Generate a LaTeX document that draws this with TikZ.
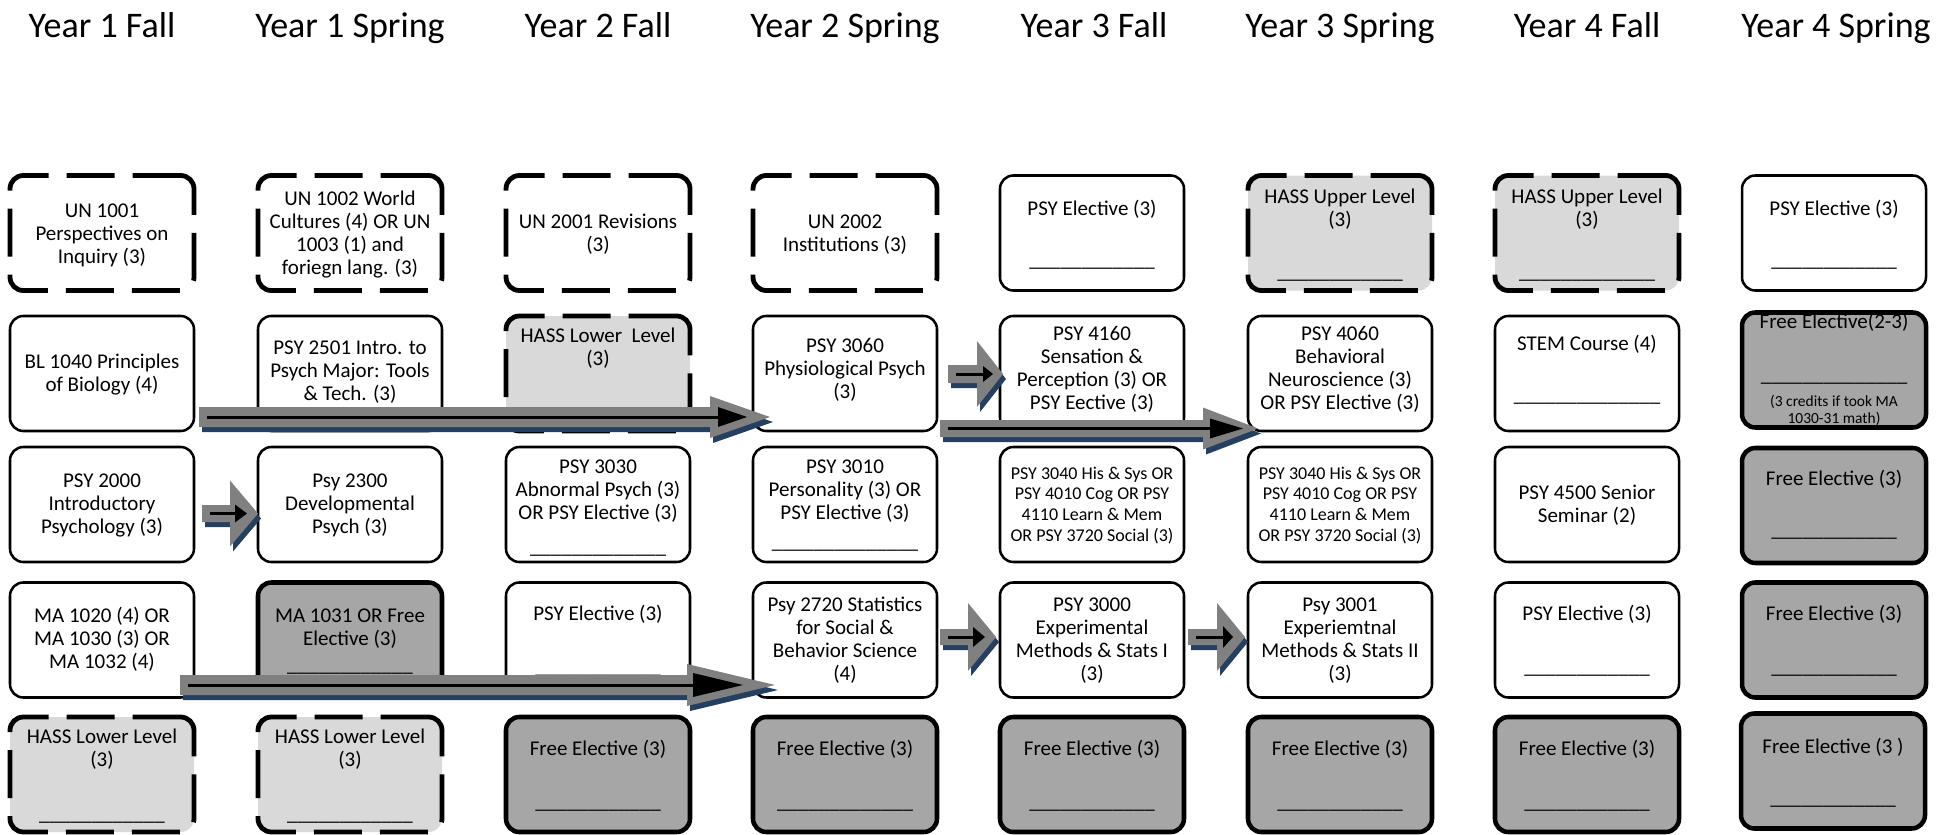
\documentclass[tikz,border=0pt]{standalone}
\usepackage{fontspec}
\setmainfont{Carlito}
\usetikzlibrary{calc}
\definecolor{lightg}{HTML}{D9D9D9}
\definecolor{freeg}{HTML}{A6A6A6}
\definecolor{arrowg}{HTML}{808080}
\definecolor{shadowb}{HTML}{243F60}
\tikzset{
 cbox/.style={rounded corners=10pt, minimum width=138pt, minimum height=86.25pt, inner sep=0pt, outer sep=0pt},
 plainbox/.style={cbox, draw=black, line width=1.9pt, fill=white},
 dashbox/.style={cbox, draw=black, line width=3.6pt, dash pattern=on 36pt off 13.5pt, fill=white},
 hassbox/.style={dashbox, fill=lightg},
 freebox/.style={cbox, draw=black, line width=3.4pt, fill=freeg},
 ctxt/.style={font=\fontsize{15.75pt}{17.5pt}\selectfont, inner sep=0pt, anchor=base},
 stxt/.style={font=\fontsize{13.5pt}{15.5pt}\selectfont, inner sep=0pt, anchor=base},
 ttxt/.style={font=\fontsize{11.6pt}{12.75pt}\selectfont, inner sep=0pt, anchor=base},
 ttl/.style={font=\fontsize{27pt}{32pt}\selectfont, inner sep=0pt, anchor=base},
}
\newcommand{\lns}[6]{\foreach \tline [count=\lnum from 0] in {#6} {\node[#1] (#2-\lnum) at (#3,{#4+\lnum*#5}) {\tline};}}
\newcommand{\garrow}[6]{\fill[#1] ($(#2)+(0,-#4)$) -- ($(#3)+(-#5,-#4)$) -- ($(#3)+(-#5,-#6)$) -- (#3) -- ($(#3)+(-#5,#6)$) -- ($(#3)+(-#5,#4)$) -- ($(#2)+(0,#4)$) -- cycle;}
\newcommand{\blockarrow}[9]{%
 \coordinate (#1s) at (#2);
 \coordinate (#1t) at (#3);
 \coordinate (#1ss) at ($(#1s)+(3,5)$);
 \coordinate (#1ts) at ($(#1t)+(3,5)$);
 \garrow{shadowb}{#1ss}{#1ts}{#4}{#5}{#6}
 \garrow{arrowg}{#1s}{#1t}{#4}{#5}{#6}
 \coordinate (#1bs) at ($(#1s)+(8,0)$);
 \coordinate (#1bt) at ($(#1t)+(-#7,0)$);
 \draw[line width=2.25pt] (#1bs) -- ($(#1bt)+(-#8/2,0)$);
 \fill[black] ($(#1bt)+(-#8,-#9)$) -- (#1bt) -- ($(#1bt)+(-#8,#9)$) -- cycle;
}
\newcommand{\blkA}{\_\_\_\_\_\_\_\_\_\_\_\_}
\newcommand{\blkB}{\_\_\_\_\_\_\_\_\_\_\_\_\_}
\newcommand{\blkC}{\_\_\_\_\_\_\_\_\_\_\_\_\_\_}
\begin{document}
\begin{tikzpicture}[x=0.75pt,y=-0.75pt]
\useasboundingbox (0,0) rectangle (1950,835);
% titles
\node[ttl] (h1) at (102,37) {Year 1 Fall};
\node[ttl] (h2) at (350,37) {Year 1 Spring};
\node[ttl] (h3) at (598,37) {Year 2 Fall};
\node[ttl] (h4) at (845,37) {Year 2 Spring};
\node[ttl] (h5) at (1094,37) {Year 3 Fall};
\node[ttl] (h6) at (1340,37) {Year 3 Spring};
\node[ttl] (h7) at (1587,37) {Year 4 Fall};
\node[ttl] (h8) at (1836,37) {Year 4 Spring};
% row 1
\node[dashbox] (c1r1) at (102,233) {};
\lns{ctxt}{t11}{102}{217}{23.3}{UN 1001,Perspectives on,Inquiry (3)}
\node[dashbox] (c2r1) at (350,233) {};
\lns{ctxt}{t21}{350}{205}{23.3}{UN 1002 World,Cultures (4) OR UN,1003 (1) and,foriegn lang. (3)}
\node[dashbox] (c3r1) at (598,233) {};
\lns{ctxt}{t31}{598}{228}{23.3}{UN 2001 Revisions,{(3)}}
\node[dashbox] (c4r1) at (845,233) {};
\lns{ctxt}{t41}{845}{228}{23.3}{UN 2002,Institutions (3)}
\node[plainbox] (c5r1) at (1092,233) {};
\lns{ctxt}{t51}{1092}{215}{23.3}{PSY Elective (3)}
\node[ctxt] (b51) at (1092,266) {\blkA};
\node[hassbox] (c6r1) at (1340,233) {};
\lns{ctxt}{t61}{1340}{203}{23.3}{HASS Upper Level,{(3)}}
\node[ctxt] (b61) at (1340,278) {\blkA};
\node[hassbox] (c7r1) at (1587,233) {};
\lns{ctxt}{t71}{1587}{203}{23.3}{HASS Upper Level,{(3)}}
\node[ctxt] (b71) at (1587,278) {\blkB};
\node[plainbox] (c8r1) at (1834,233) {};
\lns{ctxt}{t81}{1834}{215}{23.3}{PSY Elective (3)}
\node[ctxt] (b81) at (1834,266) {\blkA};
% row 2
\node[plainbox] (c1r2) at (102,373.5) {};
\lns{ctxt}{t12}{102}{368}{23.3}{BL 1040 Principles,of Biology (4)}
\node[plainbox] (c2r2) at (350,373.5) {};
\lns{ctxt}{t22}{350}{354}{23.3}{PSY 2501 Intro. to,Psych Major: Tools,\& Tech. (3)}
\node[hassbox] (c3r2) at (598,373.5) {};
\lns{ctxt}{t32}{598}{342}{23.3}{HASS Lower\ \ Level,{(3)}}
\node[plainbox] (c4r2) at (845,373.5) {};
\lns{ctxt}{t42}{845}{352}{23.3}{PSY 3060,Physiological Psych,{(3)}}
\node[plainbox] (c5r2) at (1092,373.5) {};
\lns{ctxt}{t52}{1092}{340}{23.3}{PSY 4160,Sensation \&,Perception (3) OR,PSY Eective (3)}
\node[plainbox] (c6r2) at (1340,373.5) {};
\lns{ctxt}{t62}{1340}{340}{23.3}{PSY 4060,Behavioral,Neuroscience (3),OR PSY Elective (3)}
\node[plainbox] (c7r2) at (1587,373.5) {};
\lns{ctxt}{t72}{1587}{350}{23.3}{STEM Course (4)}
\node[ctxt] (b72) at (1587,401) {\blkC};
\node[freebox] (c8r2) at (1834,370) {};
\lns{ctxt}{t82}{1834}{328}{23.3}{Free Elective(2-3)}
\node[ctxt] (b82) at (1834,381) {\blkC};
\lns{ttxt}{s82}{1834}{406}{17}{{(3 credits if took MA},{1030-31 math)}}
% row 3
\node[plainbox] (c1r3) at (102,504.5) {};
\lns{ctxt}{t13}{102}{487}{23.3}{PSY 2000,Introductory,Psychology (3)}
\node[plainbox] (c2r3) at (350,504.5) {};
\lns{ctxt}{t23}{350}{487}{23.3}{Psy 2300,Developmental,Psych (3)}
\node[plainbox] (c3r3) at (598,504.5) {};
\lns{ctxt}{t33}{598}{473}{23.3}{PSY 3030,Abnormal Psych (3),OR PSY Elective (3)}
\node[ctxt] (b33) at (598,553) {\blkB};
\node[plainbox] (c4r3) at (845,504.5) {};
\lns{ctxt}{t43}{845}{473}{23.3}{PSY 3010,Personality (3) OR,PSY Elective (3)}
\node[ctxt] (b43) at (845,548) {\blkC};
\node[plainbox] (c5r3) at (1092,504.5) {};
\lns{stxt}{t53}{1092}{479}{20.7}{PSY 3040 His \& Sys OR,PSY 4010 Cog OR PSY,4110 Learn \& Mem,OR PSY 3720 Social (3)}
\node[plainbox] (c6r3) at (1340,504.5) {};
\lns{stxt}{t63}{1340}{479}{20.7}{PSY 3040 His \& Sys OR,PSY 4010 Cog OR PSY,4110 Learn \& Mem,OR PSY 3720 Social (3)}
\node[plainbox] (c7r3) at (1587,504.5) {};
\lns{ctxt}{t73}{1587}{499}{23.3}{PSY 4500 Senior,Seminar (2)}
\node[freebox] (c8r3) at (1834,505.5) {};
\lns{ctxt}{t83}{1834}{485}{23.3}{Free Elective (3)}
\node[ctxt] (b83) at (1834,536) {\blkA};
% row 4
\node[plainbox] (c1r4) at (102,640) {};
\lns{ctxt}{t14}{102}{622}{23.3}{MA 1020 (4) OR,MA 1030 (3) OR,MA 1032 (4)}
\node[freebox] (c2r4) at (350,640) {};
\lns{ctxt}{t24}{350}{622}{23.3}{MA 1031 OR Free,Elective (3)}
\node[ctxt] (b24) at (350,671) {\blkA};
\node[plainbox] (c3r4) at (598,640) {};
\lns{ctxt}{t34}{598}{620}{23.3}{PSY Elective (3)}
\node[ctxt] (b34) at (598,673) {\blkA};
\node[plainbox] (c4r4) at (845,640) {};
\lns{ctxt}{t44}{845}{611}{23.3}{Psy 2720 Statistics,for Social \&,Behavior Science,{(4)}}
\node[plainbox] (c5r4) at (1092,640) {};
\lns{ctxt}{t54}{1092}{611}{23.3}{PSY 3000,Experimental,Methods \& Stats I,{(3)}}
\node[plainbox] (c6r4) at (1340,640) {};
\lns{ctxt}{t64}{1340}{611}{23.3}{Psy 3001,Experiemtnal,Methods \& Stats II,{(3)}}
\node[plainbox] (c7r4) at (1587,640) {};
\lns{ctxt}{t74}{1587}{620}{23.3}{PSY Elective (3)}
\node[ctxt] (b74) at (1587,673) {\blkA};
\node[freebox] (c8r4) at (1834,640) {};
\lns{ctxt}{t84}{1834}{620}{23.3}{Free Elective (3)}
\node[ctxt] (b84) at (1834,673) {\blkA};
% row 5
\node[hassbox] (c1r5) at (102,774.5) {};
\lns{ctxt}{t15}{102}{743}{23.3}{HASS Lower Level,{(3)}}
\node[ctxt] (b15) at (102,820) {\blkA};
\node[hassbox] (c2r5) at (350,774.5) {};
\lns{ctxt}{t25}{350}{743}{23.3}{HASS Lower Level,{(3)}}
\node[ctxt] (b25) at (350,820) {\blkA};
\node[freebox] (c3r5) at (598,774.5) {};
\lns{ctxt}{t35}{598}{755}{23.3}{Free Elective (3)}
\node[ctxt] (b35) at (598,808) {\blkA};
\node[freebox] (c4r5) at (845,774.5) {};
\lns{ctxt}{t45}{845}{755}{23.3}{Free Elective (3)}
\node[ctxt] (b45) at (845,808) {\blkB};
\node[freebox] (c5r5) at (1092,774.5) {};
\lns{ctxt}{t55}{1092}{755}{23.3}{Free Elective (3)}
\node[ctxt] (b55) at (1092,808) {\blkA};
\node[freebox] (c6r5) at (1340,774.5) {};
\lns{ctxt}{t65}{1340}{755}{23.3}{Free Elective (3)}
\node[ctxt] (b65) at (1340,808) {\blkA};
\node[freebox] (c7r5) at (1587,774.5) {};
\lns{ctxt}{t75}{1587}{755}{23.3}{Free Elective (3)}
\node[ctxt] (b75) at (1587,808) {\blkA};
\node[freebox] (c8r5) at (1833,771) {};
\lns{ctxt}{t85}{1833}{753}{23.3}{Free Elective (3 )}
\node[ctxt] (b85) at (1833,804) {\blkA};
% arrows
\blockarrow{A1}{$(c1r2.east)+(5,43.5)$}{$(c4r2.west)+(17,43.5)$}{10}{60}{21}{23}{29}{10}
\blockarrow{A2}{$(c4r2.east)+(3,55)$}{$(c6r2.west)+(10,55)$}{8.5}{55}{21}{15}{33}{10}
\blockarrow{A3}{$(c4r2.east)+(11,0.5)$}{$(c5r2.west)+(3,0.5)$}{9}{26}{33}{10}{10}{8}
\blockarrow{A4}{$(c1r3.east)+(8,9)$}{$(c2r3.west)+(0,9)$}{8.5}{28}{33}{11}{12}{9}
\blockarrow{A5}{$(c1r4.east)+(-14,45)$}{$(c4r4.west)+(22,45)$}{10}{88}{21}{32}{50}{12}
\blockarrow{A6}{$(c4r4.east)+(3,-3)$}{$(c5r4.west)+(-4,-3)$}{8}{28}{34}{11}{12}{10}
\blockarrow{A7}{$(c5r4.east)+(4,-3)$}{$(c6r4.west)+(-3,-3)$}{8}{28}{34}{12}{10}{11}
\end{tikzpicture}
\end{document}
